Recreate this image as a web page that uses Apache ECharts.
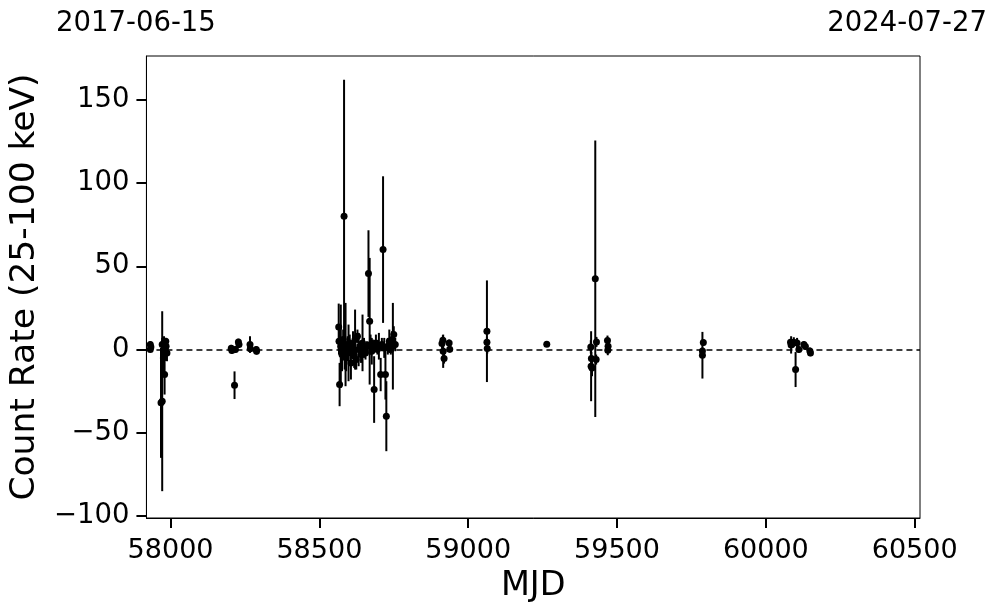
<!DOCTYPE html>
<html>
<head>
<meta charset="utf-8">
<script src="https://cdn.jsdelivr.net/npm/echarts@6/dist/echarts.min.js"></script>
<style>html,body{margin:0;padding:0;background:#fff}#c{width:997px;height:613px}</style>
</head>
<body>
<div id="c"></div>
<script>
const mjd = [
  57932, 57932, 57934, 57968, 57972, 57972, 57976, 57978, 57980, 57982, 57984, 57985, 57988,
  58204, 58206, 58215, 58218, 58228, 58230, 58267, 58268, 58288, 58289,
  58565, 58566, 58568, 58572, 58576, 58580, 58583, 58585, 58588, 58590, 58595, 58598, 58602, 58606,
  58610, 58613, 58617, 58620, 58624, 58628, 58632, 58636, 58640, 58645, 58650, 58655, 58660,
  58665, 58669, 58672, 58676, 58680, 58684, 58690, 58695, 58700, 58706, 58710, 58714, 58718,
  58722, 58725, 58730, 58735, 58740, 58744, 58747, 58750, 58755,
  58912, 58915, 58916, 58919, 58936, 58938,
  59063, 59063, 59064, 59264,
  59412, 59413, 59414, 59416, 59427, 59430, 59431, 59468, 59469, 59470,
  59787, 59787, 59790,
  60083, 60085, 60094, 60100, 60105, 60111, 60128, 60133, 60148, 60150
];
const rate = [
  3, 0, 1.5, -32, -31, 3, -5, 4, -15, 0, 5, 2, -2,
  0.8, -0.5, -21.4, 0, 4.5, 3, 3, 0.5, 0, -1,
  13.6, 5, -21, 2, -3, 6, 80, 0, 3, -5, 2, -2, 4, -8,
  1, 3, -4, 6, -6, 8, 0, 2, -3, 4, 1, -2, 2,
  45.6, 17, 3, -1, 2, -24, 4, 0, 2, -15, 3, 60, 1,
  -15, -40, 2, 5, 0, 6, 2, 9, 3,
  3.6, 5.6, -1, -5.4, 4, 0.2,
  11, 4.4, 0.6, 3.2,
  1.6, -10, -5.4, -11, 42.5, -6, 4.6, 5.4, -0.4, 2,
  -0.8, -3.4, 4.2,
  4.4, 2.8, 4.4, -12, 4, 0, 3, 1.8, -0.8, -2
];
const err = [
  2, 1.5, 2, 33, 54, 4, 10, 4, 12, 6, 2, 3, 5,
  2, 2, 8.3, 2, 2, 2, 5, 2, 2, 2,
  14, 8, 13, 25, 10, 6, 82, 12, 25, 8, 6, 17, 5, 10,
  4, 8, 7, 18, 6, 4, 10, 3, 5, 17, 6, 4, 3,
  26, 38, 6, 8, 4, 20, 5, 3, 8, 10, 4, 44, 6,
  15, 21, 5, 7, 3, 5, 26, 5, 4,
  3, 3, 10, 3, 2, 2,
  30.5, 3, 3, 1.5,
  4, 21, 4, 5, 83, 3, 3, 3, 3, 3,
  2, 14, 2,
  2, 5.2, 3, 10.5, 3, 2, 2, 2, 2, 2
];
const xTicks = [58000, 58500, 59000, 59500, 60000, 60500];
const yTicks = [-100, -50, 0, 50, 100, 150];
const dateLeft = '2017-06-15';
const dateRight = '2024-07-27';
const xTitle = 'MJD';
const yTitle = 'Count Rate (25-100 keV)';

const pts = mjd.map((m, i) => [m, rate[i], err[i]]);
const font = 'DejaVu Sans';

const chart = echarts.init(document.getElementById('c'));
chart.setOption({
  animation: false,
  backgroundColor: '#fff',
  textStyle: { fontFamily: font },
  grid: { left: 145, right: 77, top: 56, bottom: 95, show: true, borderColor: '#000', borderWidth: 1, backgroundColor: 'transparent' },
  graphic: [
    { type: 'text', left: 56, top: 10, style: { text: dateLeft, font: '27.5px "DejaVu Sans"', fill: '#000' } },
    { type: 'text', right: 10, top: 10, style: { text: dateRight, font: '27.5px "DejaVu Sans"', fill: '#000' } }
  ],
  xAxis: {
    type: 'value', min: 57919, max: 60518,
    name: xTitle, nameLocation: 'middle', nameGap: 49,
    nameTextStyle: { fontSize: 33.5, color: '#000', fontFamily: font },
    axisLine: { show: true, onZero: false, lineStyle: { color: '#000', width: 1 } },
    axisTick: { show: true, inside: false, customValues: xTicks, length: 10, lineStyle: { color: '#000', width: 2 } },
    axisLabel: { customValues: xTicks, fontSize: 27, color: '#000', margin: 19, fontFamily: font,
      formatter: v => String(v) },
    splitLine: { show: false }
  },
  yAxis: {
    type: 'value', min: -101.1, max: 176.2,
    name: yTitle, nameLocation: 'middle', nameGap: 90, nameRotate: 90,
    nameTextStyle: { fontSize: 34.5, color: '#000', fontFamily: font },
    axisLine: { show: true, onZero: false, lineStyle: { color: '#000', width: 1 } },
    axisTick: { show: true, inside: false, customValues: yTicks, length: 10, lineStyle: { color: '#000', width: 2 } },
    axisLabel: { customValues: yTicks, fontSize: 27.5, color: '#000', margin: 17, fontFamily: font,
      formatter: v => (v < 0 ? '\u2212' + Math.abs(v) : String(v)) },
    splitLine: { show: false }
  },
  series: [
    {
      type: 'custom',
      data: pts,
      renderItem: function (params, api) {
        const x = api.value(0), y = api.value(1), e = api.value(2);
        const p1 = api.coord([x, y - e]);
        const p2 = api.coord([x, y + e]);
        return { type: 'line', shape: { x1: p1[0], y1: p1[1], x2: p2[0], y2: p2[1] }, style: { stroke: '#000', lineWidth: 2 } };
      },
      z: 2
    },
    {
      type: 'scatter',
      data: pts.map(p => [p[0], p[1]]),
      symbol: 'circle', symbolSize: 7,
      itemStyle: { color: '#000', opacity: 1 },
      z: 3,
      markLine: {
        silent: true, symbol: 'none', label: { show: false },
        lineStyle: { color: '#000', type: [6, 4], width: 1.5, opacity: 1 },
        data: [{ yAxis: 0 }]
      }
    }
  ]
});
</script>
</body>
</html>
